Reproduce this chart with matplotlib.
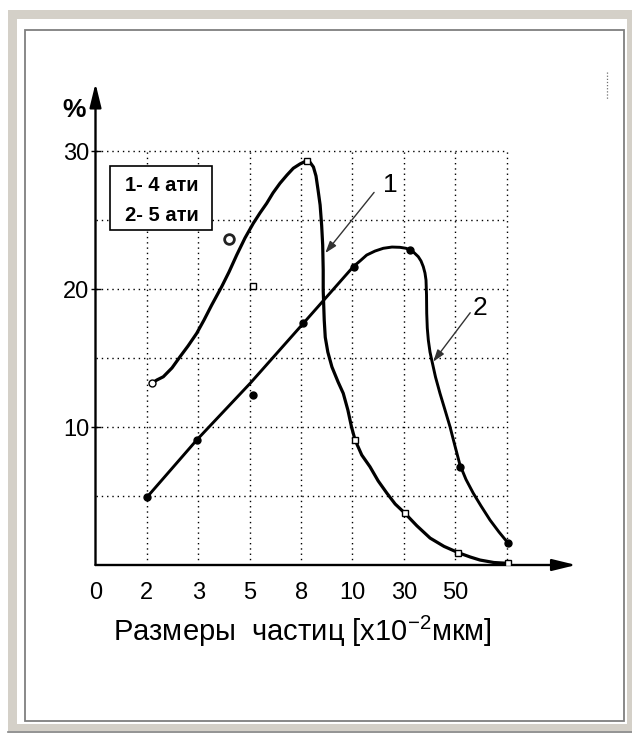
import matplotlib
matplotlib.use("Agg")
import matplotlib.pyplot as plt
from matplotlib.patches import Rectangle
from matplotlib.lines import Line2D

plt.rcParams["font.family"] = ["Liberation Sans", "DejaVu Sans"]
plt.rcParams["mathtext.fontset"] = "custom"
plt.rcParams["mathtext.rm"] = "Liberation Sans"
plt.rcParams["mathtext.default"] = "regular"

# ---- data -------------------------------------------------------------
size_labels = ["0", "2", "3", "5", "8", "10", "30", "50"]
y_ticks = [10, 20, 30]

# curve 1 (4 ати): traced line and measured points
curve1_x = [1.093, 1.196, 1.319, 1.488, 1.644, 1.800, 1.969, 2.111, 2.261,
            2.455, 2.597, 2.747, 2.909, 3.070, 3.200, 3.331, 3.453, 3.589,
            3.726, 3.848, 3.978, 4.109, 4.17, 4.24, 4.29, 4.33, 4.37, 4.40,
            4.42, 4.43, 4.43, 4.45, 4.47, 4.52, 4.60, 4.72, 4.82, 4.91, 4.98,
            5.05, 5.18, 5.34, 5.50, 5.67, 5.83, 6.02, 6.25, 6.51, 6.78, 7.06,
            7.29, 7.48, 7.75, 8.03]
curve1_y = [13.17, 13.41, 13.64, 14.28, 15.09, 15.87, 16.79, 17.75, 18.84,
            20.17, 21.23, 22.46, 23.70, 24.76, 25.51, 26.21, 26.96, 27.66,
            28.26, 28.75, 29.06, 29.30, 29.2, 28.84, 28.19, 27.17, 26.09, 24.6,
            23.19, 21.38, 19.9, 17.75, 16.5, 15.43, 14.35, 13.26, 12.44, 11.23,
            10.02, 9.06, 7.97, 7.12, 6.09, 5.2, 4.42, 3.75, 2.85, 1.95, 1.35,
            0.89, 0.58, 0.36, 0.18, 0.12]
pts1_x = [4.11, 5.05, 6.02, 7.06, 8.03]
pts1_y = [29.3, 9.06, 3.75, 0.9, 0.12]
start1_x, start1_y = [1.09], [13.2]
outlier1_circle = ([2.60], [23.6])
outlier1_square = ([3.07], [20.2])

# curve 2 (5 ати): traced line and measured points
curve2_x = [1.01, 1.97, 3.01, 4.043, 5.016, 5.146, 5.276, 5.438, 5.599, 5.768,
            5.924, 6.041, 6.119, 6.196, 6.280, 6.333, 6.377, 6.410, 6.430,
            6.440, 6.444, 6.455, 6.475, 6.508, 6.541, 6.615, 6.702, 6.800,
            6.897, 6.994, 7.091, 7.208, 7.350, 7.500, 7.675, 7.850, 8.031]
curve2_y = [4.95, 9.06, 13.17, 17.51, 21.62, 22.03, 22.46, 22.75, 22.95, 23.04,
            23.02, 22.95, 22.83, 22.64, 22.34, 22.03, 21.62, 21.16, 20.65,
            19.57, 18.24, 17.17, 16.30, 15.43, 14.86, 13.62, 12.44, 11.23,
            10.02, 8.62, 7.25, 6.2, 5.20, 4.28, 3.26, 2.39, 1.57]
pts2_x = [1.01, 1.97, 4.04, 5.02, 6.12, 7.09, 8.03]
pts2_y = [4.95, 9.06, 17.51, 21.6, 22.83, 7.1, 1.57]
outlier2 = ([3.06], [12.3])

legend_lines = ["1- 4 ати", "2- 5 ати"]

# ---- figure -----------------------------------------------------------
W, H = 632, 734
fig = plt.figure(figsize=(W / 100, H / 100), dpi=100)
fig.patch.set_facecolor("white")


def fx(px):
    return px / W


def fy(py):
    return 1 - py / H


# window-like frame
fig.patches.append(Rectangle((fx(8), fy(731)), fx(632) - fx(8), fy(10) - fy(731),
                             transform=fig.transFigure, facecolor="#d4d0c8",
                             edgecolor="none", zorder=-3))
fig.patches.append(Rectangle((fx(17), fy(724)), fx(627) - fx(17), fy(19) - fy(724),
                             transform=fig.transFigure, facecolor="white",
                             edgecolor="none", zorder=-2))
fig.patches.append(Rectangle((fx(25), fy(721)), fx(624) - fx(25), fy(30) - fy(721),
                             transform=fig.transFigure, facecolor="none",
                             edgecolor="#7f7f7f", lw=1.3, zorder=-1))
fig.lines.append(Line2D([fx(8), fx(632)], [fy(732), fy(732)],
                        transform=fig.transFigure, color="#808080", lw=1.2,
                        zorder=-1))
fig.lines.append(Line2D([fx(607), fx(607)], [fy(72), fy(100)],
                        transform=fig.transFigure, color="#707070", lw=0.9,
                        linestyle=(0, (1, 1.5)), zorder=-1))

# axes: x unit = 51.4 px, y unit = 13.8 px
x0, y0 = 95.5, 565
xmax, ymax = 9.35, 34.9
ax = fig.add_axes([fx(x0), fy(y0), xmax * 51.4 / W, ymax * 13.8 / H])
ax.set_zorder(2)
ax.set_xlim(0, xmax)
ax.set_ylim(0, ymax)
ax.patch.set_alpha(0)
for s in ax.spines.values():
    s.set_visible(False)

# dotted grid
dots = (0, (1, 2.8))
ax.hlines([5, 10, 15, 20, 25, 30], 0, 8, colors="black", lw=1.0, linestyles=[dots])
ax.vlines(range(1, 9), 0, 30, colors="black", lw=1.0, linestyles=[dots])

# axes with arrows
arrow = dict(arrowstyle="-|>,head_length=0.9,head_width=0.22", color="black",
             lw=1.7, mutation_scale=16, shrinkA=0, shrinkB=0)
ax.annotate("", xy=(0, ymax), xytext=(0, 0), arrowprops=arrow,
            annotation_clip=False)
ax.annotate("", xy=(xmax, 0), xytext=(0, 0), arrowprops=arrow,
            annotation_clip=False)

ax.set_xticks(range(len(size_labels)))
ax.set_xticklabels(size_labels)
ax.tick_params(axis="x", length=0, pad=12, labelsize=17)
ax.set_yticks(y_ticks)
ax.set_yticklabels([str(v) for v in y_ticks])
ax.tick_params(axis="y", direction="inout", length=7, width=1, pad=1,
               labelsize=17)

fig.text(fx(302), fy(631), r"Размеры  частиц [x10$^{-2}$мкм]", fontsize=21,
         ha="center", va="center")
fig.text(fx(74), fy(110), "%", fontsize=19, fontweight="bold",
         ha="center", va="center")

# curves
ax.plot(curve1_x, curve1_y, color="black", lw=2.3, solid_capstyle="round",
        solid_joinstyle="round", zorder=3)
ax.plot(curve2_x, curve2_y, color="black", lw=2.1, solid_capstyle="round",
        solid_joinstyle="round", zorder=3)
ax.plot(pts1_x, pts1_y, ls="none", marker="s", ms=4, mfc="white", mec="black",
        mew=1, zorder=4)
ax.plot(start1_x, start1_y, ls="none", marker="o", ms=5, mfc="white",
        mec="black", mew=1, zorder=4)
ax.plot(*outlier1_circle, ls="none", marker="o", ms=7, mfc="white",
        mec="#222222", mew=2, zorder=4)
ax.plot(*outlier1_square, ls="none", marker="s", ms=4, mfc="white",
        mec="black", mew=1, zorder=4)
ax.plot(pts2_x, pts2_y, ls="none", marker="o", ms=5, color="black", zorder=4)
ax.plot(*outlier2, ls="none", marker="o", ms=5, color="black", zorder=4)

# legend box
ax.add_patch(Rectangle((0.28, 24.28), 1.98, 4.62, facecolor="white",
                       edgecolor="black", lw=1.2, zorder=5))
ax.text(0.57, 27.5, legend_lines[0], fontsize=14.5, fontweight="bold",
        va="center", ha="left", zorder=6)
ax.text(0.57, 25.3, legend_lines[1], fontsize=14.5, fontweight="bold",
        va="center", ha="left", zorder=6)

# curve labels with pointers
pointer = dict(arrowstyle="-|>,head_length=0.6,head_width=0.2", color="#333333",
               lw=1.0, mutation_scale=12, shrinkA=0, shrinkB=0)
ax.text(5.73, 27.54, "1", fontsize=19, ha="center", va="center")
ax.annotate("", xy=(4.47, 22.6), xytext=(5.42, 27.0), arrowprops=pointer)
ax.text(7.48, 18.6, "2", fontsize=19, ha="center", va="center")
ax.annotate("", xy=(6.57, 14.73), xytext=(7.29, 18.28), arrowprops=pointer)

fig.savefig("out.png", dpi=100)
